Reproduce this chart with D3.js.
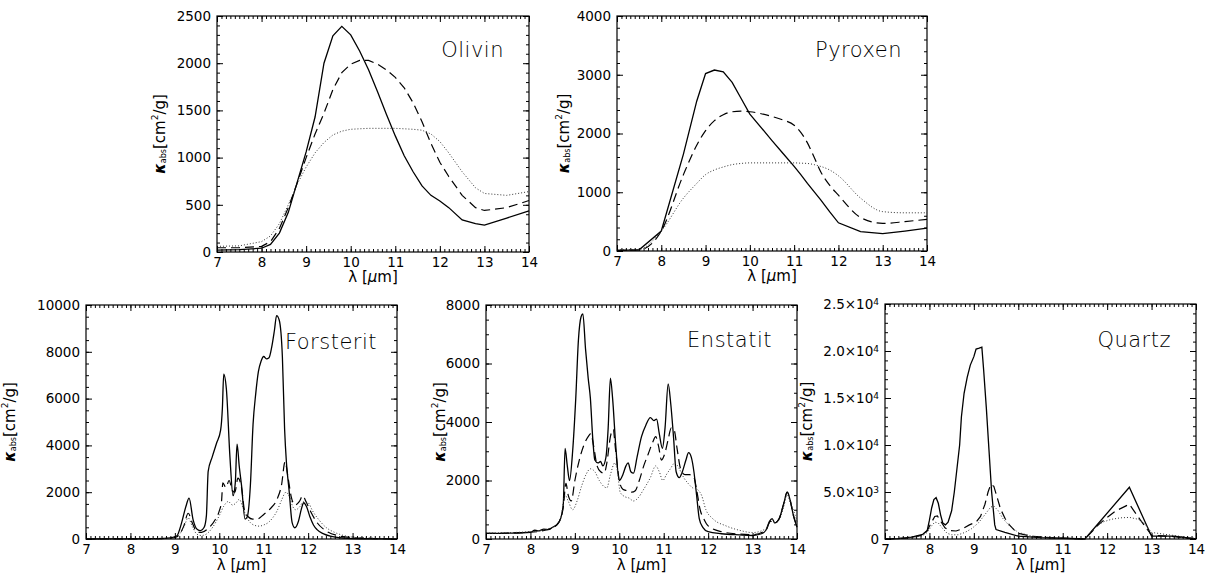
<!DOCTYPE html>
<html>
<head>
<meta charset="utf-8">
<script src="https://cdn.jsdelivr.net/npm/d3@7"></script>
<style>
body { margin: 0; background: #fff; }
svg text { font-family: "DejaVu Sans", sans-serif; fill: #000; }
</style>
</head>
<body>
<svg id="chart" width="1211" height="575"></svg>
<script>
// wavelength grid and curves (kappa_abs in cm^2/g)
var olivinLambda = [7, 7.5, 8, 8.2, 8.4, 8.6, 8.8, 9.0, 9.2, 9.4, 9.6, 9.8, 10.0, 10.2, 10.4, 10.6, 10.8, 11.0, 11.2, 11.4, 11.6, 11.8, 12.0, 12.2, 12.5, 12.8, 13.0, 13.5, 14.0];
var olivinSolid  = [20, 25, 40, 80, 200, 420, 740, 1060, 1430, 2000, 2290, 2390, 2300, 2130, 1930, 1700, 1460, 1230, 1020, 850, 700, 600, 540, 470, 340, 300, 285, 360, 435];
var olivinDashed = [45, 45, 60, 110, 250, 470, 730, 1000, 1250, 1470, 1720, 1900, 1990, 2030, 2030, 1990, 1930, 1850, 1740, 1580, 1380, 1150, 950, 800, 600, 470, 440, 470, 545];
var olivinDotted = [60, 65, 110, 170, 300, 500, 720, 900, 1050, 1160, 1240, 1280, 1300, 1305, 1310, 1310, 1310, 1310, 1305, 1300, 1290, 1250, 1170, 1050, 850, 680, 620, 600, 640];

var pyroxenLambda = [7, 7.5, 8, 8.5, 8.8, 9.0, 9.2, 9.4, 9.6, 9.8, 10.0, 10.5, 10.75, 11.0, 11.15, 11.3, 11.45, 11.6, 11.8, 12.0, 12.5, 13.0, 13.5, 14.0];
var pyroxenSolid  = [10, 20, 340, 1650, 2550, 3020, 3080, 3050, 2870, 2600, 2330, 1880, 1660, 1440, 1300, 1150, 1010, 870, 670, 480, 330, 295, 340, 390];
var pyroxenDashed = [10, 20, 340, 1300, 1800, 2050, 2220, 2320, 2370, 2380, 2370, 2290, 2230, 2140, 2020, 1840, 1600, 1350, 1120, 950, 570, 470, 500, 540];
var pyroxenDotted = [20, 30, 340, 900, 1150, 1300, 1380, 1430, 1470, 1490, 1500, 1500, 1500, 1500, 1495, 1490, 1470, 1440, 1380, 1280, 900, 670, 650, 650];

var forsteritSolid = [[7,0],[8,5],[8.6,15],[8.9,50],[9.04,120],[9.15,680],[9.25,1400],[9.32,1750],[9.41,830],[9.5,420],[9.58,360],[9.66,500],[9.71,1000],[9.75,2890],[9.84,3500],[9.94,4100],[10.03,4650],[10.07,5600],[10.1,7050],[10.16,6400],[10.24,3500],[10.31,1850],[10.36,2400],[10.4,4050],[10.45,3100],[10.5,2300],[10.58,850],[10.63,950],[10.7,2300],[10.76,4900],[10.82,6200],[10.88,7150],[10.94,7600],[11.0,7800],[11.06,7700],[11.12,7750],[11.18,8200],[11.24,8900],[11.29,9550],[11.35,9350],[11.42,7800],[11.47,4700],[11.51,3300],[11.57,2100],[11.64,700],[11.7,480],[11.78,750],[11.85,1300],[11.9,1550],[11.96,1400],[12.04,950],[12.12,600],[12.2,400],[12.35,220],[12.5,120],[12.8,40],[13.2,10],[14,0]];
var forsteritDashed = [[7,0],[8.6,10],[8.9,40],[9.05,100],[9.2,550],[9.3,1100],[9.4,650],[9.5,300],[9.6,280],[9.75,450],[9.9,800],[10.0,1200],[10.05,1600],[10.08,2400],[10.15,2200],[10.22,2500],[10.3,2050],[10.35,2000],[10.42,2600],[10.5,2200],[10.57,1200],[10.65,950],[10.75,850],[10.85,850],[11.0,1050],[11.15,1300],[11.3,1700],[11.4,2300],[11.48,3300],[11.55,2600],[11.62,1800],[11.7,1450],[11.8,1600],[11.88,1850],[11.95,1600],[12.05,1200],[12.2,700],[12.4,350],[12.7,130],[13.0,60],[13.5,20],[14,0]];
var forsteritDotted = [[7,0],[8.6,10],[8.9,40],[9.05,100],[9.2,500],[9.3,900],[9.4,500],[9.5,200],[9.6,150],[9.7,200],[9.85,500],[10.0,1000],[10.1,1400],[10.2,1600],[10.3,1450],[10.38,1550],[10.45,1700],[10.52,1400],[10.6,1000],[10.7,700],[10.8,580],[10.9,550],[11.0,600],[11.1,700],[11.2,900],[11.3,1200],[11.4,1650],[11.5,2000],[11.58,1800],[11.65,1400],[11.72,1250],[11.8,1350],[11.9,1600],[12.0,1550],[12.1,1200],[12.25,800],[12.4,500],[12.6,280],[12.8,150],[13.0,80],[13.5,30],[14,10]];

var enstatitSolid = [[7,190],[7.5,200],[8,230],[8.1,300],[8.2,280],[8.3,340],[8.4,320],[8.5,400],[8.6,500],[8.68,700],[8.74,1200],[8.78,3100],[8.83,2500],[8.88,2000],[8.95,3000],[9.02,4800],[9.08,6800],[9.14,7600],[9.18,7700],[9.24,6500],[9.3,5500],[9.35,4800],[9.4,3500],[9.45,2700],[9.52,2600],[9.58,2650],[9.63,2500],[9.7,2800],[9.75,3800],[9.8,5500],[9.85,4800],[9.92,3200],[10.0,2000],[10.08,2200],[10.15,2500],[10.2,2600],[10.26,2300],[10.32,2250],[10.4,2800],[10.5,3500],[10.6,3900],[10.7,4150],[10.78,4050],[10.84,4100],[10.9,3600],[10.97,3100],[11.03,3800],[11.1,5300],[11.16,4600],[11.22,3500],[11.28,2300],[11.35,2100],[11.42,2300],[11.5,2700],[11.56,2950],[11.62,2800],[11.68,2300],[11.74,1500],[11.8,700],[11.88,400],[12.0,250],[12.3,180],[12.7,140],[13.0,120],[13.2,180],[13.3,300],[13.38,600],[13.44,700],[13.5,550],[13.6,700],[13.7,1200],[13.78,1600],[13.85,1300],[13.92,800],[14,400]];
var enstatitDashed = [[7,190],[8,230],[8.5,380],[8.65,600],[8.74,1100],[8.8,1900],[8.85,1500],[8.92,1300],[9.0,2000],[9.1,2700],[9.2,3200],[9.3,3500],[9.36,3600],[9.42,3200],[9.5,2500],[9.58,2300],[9.66,2250],[9.72,2600],[9.8,3500],[9.86,3750],[9.92,3000],[10.0,2000],[10.08,1700],[10.18,1650],[10.28,1600],[10.36,1650],[10.45,2000],[10.55,2500],[10.65,2900],[10.75,3300],[10.82,3500],[10.88,3200],[10.95,2700],[11.02,2900],[11.1,3400],[11.17,3800],[11.24,3700],[11.3,3100],[11.38,2400],[11.48,2200],[11.58,2200],[11.68,2100],[11.75,1600],[11.82,1000],[11.9,700],[12.0,450],[12.3,250],[12.7,170],[13.0,150],[13.3,300],[13.4,600],[13.5,550],[13.6,700],[13.7,1200],[13.78,1600],[13.85,1300],[13.92,800],[14,450]];
var enstatitDotted = [[7,200],[8,250],[8.5,400],[8.68,700],[8.78,1500],[8.85,1300],[8.95,1000],[9.05,1300],[9.15,1800],[9.25,2200],[9.35,2400],[9.45,2300],[9.55,2000],[9.65,1800],[9.72,1750],[9.8,2200],[9.9,2600],[9.96,2300],[10.02,1600],[10.12,1450],[10.22,1400],[10.32,1300],[10.42,1400],[10.55,1700],[10.7,2100],[10.82,2500],[10.9,2300],[10.98,2000],[11.06,2200],[11.15,2400],[11.25,2600],[11.35,2400],[11.45,2100],[11.55,1900],[11.65,1750],[11.75,1700],[11.85,1500],[11.95,1000],[12.1,700],[12.4,450],[12.7,300],[13.0,220],[13.3,350],[13.42,600],[13.5,550],[13.6,650],[13.7,1100],[13.78,1500],[13.86,1200],[13.94,900],[14,600]];

var quartzSolid = [[7,0],[7.3,50],[7.6,200],[7.85,500],[7.95,900],[8.0,2000],[8.05,3300],[8.1,4200],[8.15,4400],[8.2,3800],[8.25,2600],[8.3,1700],[8.36,1500],[8.42,1800],[8.5,3000],[8.56,5000],[8.62,7500],[8.68,10000],[8.72,13000],[8.78,15500],[8.85,17200],[8.92,18500],[9.0,19400],[9.05,20200],[9.12,20300],[9.18,20400],[9.22,18000],[9.28,14000],[9.34,9500],[9.4,5000],[9.47,1500],[9.5,1000],[9.7,700],[10.0,300],[10.5,150],[11.0,80],[11.5,0],[12.5,5500],[13.0,300],[13.5,300],[14,0]];
var quartzDashed = [[7,0],[7.5,100],[7.85,400],[7.95,900],[8.05,1800],[8.12,2400],[8.18,2450],[8.25,1900],[8.35,1200],[8.45,900],[8.6,850],[8.75,1100],[8.9,1500],[9.05,1800],[9.15,2400],[9.25,3700],[9.32,5000],[9.38,5800],[9.45,5600],[9.52,4500],[9.6,3200],[9.7,2200],[9.8,1500],[9.9,1000],[10.0,600],[10.3,300],[10.7,150],[11.5,0],[11.8,1500],[12.0,2300],[12.2,3000],[12.5,3700],[12.75,2000],[13.0,400],[13.5,250],[14,0]];
var quartzDotted = [[7,0],[7.5,80],[7.85,350],[7.95,700],[8.05,1400],[8.12,1800],[8.2,1700],[8.3,1100],[8.4,600],[8.5,450],[8.65,450],[8.8,700],[8.95,1100],[9.1,1700],[9.25,2600],[9.38,3400],[9.45,3500],[9.55,3000],[9.65,2200],[9.8,1400],[10.0,700],[10.3,300],[10.7,150],[11.5,0],[11.7,1100],[11.9,1800],[12.1,2100],[12.3,2250],[12.5,2300],[12.7,2100],[12.85,1600],[13.0,700],[13.3,500],[13.7,250],[14,50]];

var xTicks = [7, 8, 9, 10, 11, 12, 13, 14];

function zip(xs, ys) {
	return xs.map(function(v, i){ return [v, ys[i]]; });
}

var svg = d3.select("#chart");
svg.append("rect").attr("width", 1211).attr("height", 575).attr("fill", "#fff");

// panel layout (box = left, top, right, bottom in px)
var lin = d3.curveLinear, mono = d3.curveMonotoneX;
var panels = [
	{ name: "Olivin", box: [217, 16, 529, 252], yMax: 2500, yStep: 500, yMinor: 100, yTitleX: 160, xTitleDy: 30, nameDy: 41, nameRight: 25, curves: [lin, lin, lin],
	  series: [zip(olivinLambda, olivinSolid), zip(olivinLambda, olivinDashed), zip(olivinLambda, olivinDotted)] },
	{ name: "Pyroxen", box: [617, 16, 927, 251], yMax: 4000, yStep: 1000, yMinor: 200, yTitleX: 564, xTitleDy: 30, nameDy: 41, nameRight: 25, curves: [lin, mono, mono],
	  series: [zip(pyroxenLambda, pyroxenSolid), zip(pyroxenLambda, pyroxenDashed), zip(pyroxenLambda, pyroxenDotted)] },
	{ name: "Forsterit", box: [86, 305, 397, 539], yMax: 10000, yStep: 2000, yMinor: 500, yTitleX: 10, xTitleDy: 31, nameDy: 44, nameRight: 20, curves: [mono, mono, mono],
	  series: [forsteritSolid, forsteritDashed, forsteritDotted] },
	{ name: "Enstatit", box: [486, 305, 797, 539], yMax: 8000, yStep: 2000, yMinor: 500, yTitleX: 440, xTitleDy: 31, nameDy: 42, nameRight: 25, curves: [mono, mono, mono],
	  series: [enstatitSolid, enstatitDashed, enstatitDotted] },
	{ name: "Quartz", box: [885, 304, 1196, 539], yMax: 25000, yStep: 5000, yMinor: 1000, yTitleX: 807, xTitleDy: 31, nameDy: 43, nameRight: 25, curves: [lin, lin, lin], sci: true,
	  series: [quartzSolid, quartzDashed, quartzDotted] }
];

var lineStyles = [
	{ dash: null, width: 1.3, color: "#000" },
	{ dash: "9,5", width: 1.2, color: "#000" },
	{ dash: "1,2", width: 1, color: "#333" }
];

function styleAxis(sel) {
	sel.select(".domain").remove();
	sel.selectAll("line").attr("stroke", "#000").attr("stroke-width", 1);
	sel.attr("font-family", null).attr("font-size", 13.5);
}

function drawPanel(p) {
	var w = p.box[2] - p.box[0];
	var h = p.box[3] - p.box[1];
	var g = svg.append("g").attr("transform", "translate(" + p.box[0] + "," + p.box[1] + ")");

	var x = d3.scaleLinear().domain([7, 14]).range([0, w]);
	var y = d3.scaleLinear().domain([0, p.yMax]).range([h, 0]);

	var xMinor = d3.range(70, 141).map(function(v){ return v / 10; });
	var yMajor = d3.range(0, p.yMax + 1, p.yStep);
	var yMinor = d3.range(0, p.yMax + 1, p.yMinor);

	// curves first, axes on top
	p.series.forEach(function(s, i){
		var line = d3.line()
			.x(function(d){ return x(d[0]); })
			.y(function(d){ return y(d[1]); })
			.curve(p.curves[i]);
		g.append("path")
			.datum(s)
			.attr("d", line)
			.attr("fill", "none")
			.attr("stroke", lineStyles[i].color)
			.attr("stroke-width", lineStyles[i].width)
			.attr("stroke-dasharray", lineStyles[i].dash);
	});

	// bottom / top
	g.append("g").attr("transform", "translate(0," + h + ")")
		.call(d3.axisBottom(x).tickValues(xMinor).tickSize(-3).tickSizeOuter(0).tickFormat(""))
		.call(styleAxis);
	g.append("g").attr("transform", "translate(0," + h + ")")
		.call(d3.axisBottom(x).tickValues(xTicks).tickSize(-6).tickSizeOuter(0).tickPadding(5).tickFormat(d3.format("d")))
		.call(styleAxis);
	g.append("g")
		.call(d3.axisTop(x).tickValues(xMinor).tickSize(-3).tickSizeOuter(0).tickFormat(""))
		.call(styleAxis);
	g.append("g")
		.call(d3.axisTop(x).tickValues(xTicks).tickSize(-6).tickSizeOuter(0).tickFormat(""))
		.call(styleAxis);

	// left / right
	var yFmt = d3.format("d");
	g.append("g")
		.call(d3.axisLeft(y).tickValues(yMinor).tickSize(-3).tickSizeOuter(0).tickFormat(""))
		.call(styleAxis);
	var yl = g.append("g")
		.call(d3.axisLeft(y).tickValues(yMajor).tickSize(-6).tickSizeOuter(0).tickPadding(6).tickFormat(yFmt))
		.call(styleAxis);
	g.append("g").attr("transform", "translate(" + w + ",0)")
		.call(d3.axisRight(y).tickValues(yMinor).tickSize(-3).tickSizeOuter(0).tickFormat(""))
		.call(styleAxis);
	g.append("g").attr("transform", "translate(" + w + ",0)")
		.call(d3.axisRight(y).tickValues(yMajor).tickSize(-6).tickSizeOuter(0).tickFormat(""))
		.call(styleAxis);

	if (p.sci) {
		yl.selectAll(".tick text").each(function(d){
			var t = d3.select(this);
			if (d == 0) return;
			var e = Math.floor(Math.log10(d));
			var m = d / Math.pow(10, e);
			t.text(null);
			t.append("tspan").text(m.toFixed(1) + "\u00d710");
			t.append("tspan").attr("dy", "-0.45em").attr("font-size", 9).text(e);
		});
	}

	// frame
	g.append("rect")
		.attr("width", w).attr("height", h)
		.attr("fill", "none").attr("stroke", "#000").attr("stroke-width", 1.2);

	// panel name
	g.append("text")
		.attr("x", w - p.nameRight)
		.attr("y", p.nameDy)
		.attr("text-anchor", "end")
		.attr("font-family", "Lato, 'DejaVu Sans', sans-serif")
		.attr("font-weight", 300)
		.attr("letter-spacing", 0.5)
		.attr("font-size", 21)
		.attr("fill", "#000")
		.text(p.name);

	// x title
	var xt = g.append("text")
		.attr("x", w / 2)
		.attr("y", h + p.xTitleDy)
		.attr("text-anchor", "middle")
		.attr("font-size", 15);
	xt.append("tspan").text("\u03bb [");
	xt.append("tspan").attr("font-style", "italic").text("\u03bc");
	xt.append("tspan").text("m]");

	// y title
	var yt = g.append("text")
		.attr("transform", "translate(" + (p.yTitleX - p.box[0]) + "," + (h / 2) + ") rotate(-90)")
		.attr("text-anchor", "middle")
		.attr("dominant-baseline", "central")
		.attr("font-size", 15);
	yt.append("tspan").attr("font-weight", "bold").attr("font-style", "italic").text("\u03ba");
	yt.append("tspan").attr("font-size", 8).attr("dy", 3).text("abs");
	yt.append("tspan").attr("dy", -3).text("[cm");
	yt.append("tspan").attr("font-size", 9).attr("dy", -5).text("2");
	yt.append("tspan").attr("dy", 5).text("/g]");
}

panels.forEach(drawPanel);
</script>
</body>
</html>
